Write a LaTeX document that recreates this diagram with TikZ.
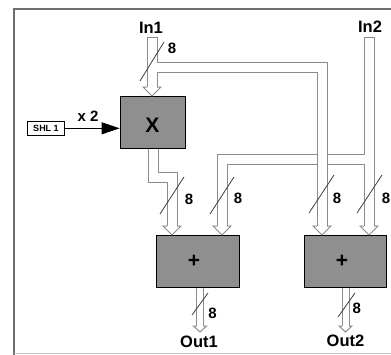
\documentclass[tikz,border=0pt]{standalone}
\usepackage{fontspec}
\setmainfont{Liberation Sans}
\usetikzlibrary{arrows.meta,calc}
\definecolor{busgray}{RGB}{140,140,140}
\definecolor{boxgray}{RGB}{143,143,143}
\definecolor{framegray}{RGB}{110,110,110}
\definecolor{slashgray}{RGB}{60,60,60}
\newcommand\bigbushead[1]{%
  \fill[white] ($(#1)+(-9,-9)$) -- (#1) -- ($(#1)+(9,-9)$) -- cycle;
  \draw[busgray,line width=1pt,line join=miter] ($(#1)+(-5,-9)$) -- ($(#1)+(-9,-9)$) -- (#1) -- ($(#1)+(9,-9)$) -- ($(#1)+(5,-9)$);}
\newcommand\smallbushead[1]{%
  \fill[white] ($(#1)+(-6.5,-6)$) -- (#1) -- ($(#1)+(6.5,-6)$) -- cycle;
  \draw[busgray,line width=1pt,line join=miter] ($(#1)+(-3.5,-6)$) -- ($(#1)+(-6.5,-6)$) -- (#1) -- ($(#1)+(6.5,-6)$) -- ($(#1)+(3.5,-6)$);}
\begin{document}
\begin{tikzpicture}[x=1pt,y=-1pt,
  blk/.style={draw=black,line width=0.8pt,fill=boxgray,inner sep=0pt},
  busedge/.style={draw=busgray,line width=11pt,line join=miter},
  busfill/.style={draw=white,line width=9pt,line join=miter},
  obusedge/.style={draw=busgray,line width=8pt},
  obusfill/.style={draw=white,line width=6pt},
  slash/.style={draw=slashgray,line width=0.8pt},
  lbl/.style={font=\fontsize{16.5}{16.5}\selectfont\bfseries,inner sep=0pt},
  num/.style={font=\fontsize{15}{15}\selectfont\bfseries,inner sep=0pt},
  sym/.style={font=\fontsize{21}{21}\selectfont\bfseries,inner sep=0pt},
]
\useasboundingbox (0,0) rectangle (391,354);
% frame
\draw[framegray,line width=1.2pt] (14,360) -- (14,9) -- (400,9);
\draw[framegray!40,line width=0.6pt] (14,352.8) -- (391,352.8);

% blocks
\node[blk,minimum width=65pt,minimum height=52pt] (mul) at (152.5,122) {};
\node[blk,minimum width=83pt,minimum height=52pt] (add1) at (197.5,261) {};
\node[blk,minimum width=82pt,minimum height=52pt] (add2) at (345,261) {};
\node[sym] (mullbl) at (152.5,125) {X};
\node[sym] (add1lbl) at (194,261) {+};
\node[sym] (add2lbl) at (342,261) {+};

% shift input
\node[draw=black,line width=0.6pt,minimum width=36.6pt,minimum height=13.3pt,inner sep=0pt,
      font=\fontsize{9}{9}\selectfont\bfseries] (shl) at (46,128.3) {SHL 1};
\draw[line width=0.8pt,-{Triangle[length=18pt,width=12pt]}] (shl.east) -- (shl.east -| mul.west);
\node[font=\fontsize{15}{15}\selectfont\bfseries,inner sep=0pt] (x2) at (88,116.5) {x 2};

% coordinates of buses
\coordinate (in1cap) at (152,37);
\coordinate (in1top) at (152,38);
\coordinate (in1base) at (152,87);
\coordinate (in1tip) at (152,96);
\coordinate (br1start) at (152,67);
\coordinate (br1corner) at (322,67);
\coordinate (a2Abase) at (322,226);
\coordinate (a2Atip) at (322,235);
\coordinate (in2cap) at (369,37);
\coordinate (in2top) at (369,38);
\coordinate (a2Bbase) at (369,226);
\coordinate (a2Btip) at (369,235);
\coordinate (br2start) at (369,159);
\coordinate (br2corner) at (222,159);
\coordinate (a1Bbase) at (222,226);
\coordinate (a1Btip) at (222,235);
\coordinate (xout) at (153,148.5);
\coordinate (jog1) at (153,177);
\coordinate (jog2) at (172,177);
\coordinate (a1Abase) at (172,226);
\coordinate (a1Atip) at (172,235);
\coordinate (o1start) at (200,287.5);
\coordinate (o1base) at (200,326);
\coordinate (o1tip) at (200,332);
\coordinate (o2start) at (345.5,287.5);
\coordinate (o2base) at (345.5,326);
\coordinate (o2tip) at (345.5,332);

% In2 bus system
\draw[busedge] (in2cap) -- (a2Bbase);
\draw[busedge] (br2start) -- (br2corner) -- (a1Bbase);
\draw[busfill] (in2top) -- (a2Bbase);
\draw[busfill] (br2start) -- (br2corner) -- (a1Bbase);
% In1 bus system
\draw[busedge] (in1cap) -- (in1base);
\draw[busedge] (br1start) -- (br1corner) -- (a2Abase);
\draw[busfill] (in1top) -- (in1base);
\draw[busfill] (br1start) -- (br1corner) -- (a2Abase);
% multiplier output
\draw[busedge] (xout) -- (jog1) -- (jog2) -- (a1Abase);
\draw[busfill] (xout) -- (jog1) -- (jog2) -- (a1Abase);
% outputs
\draw[obusedge] (o1start) -- (o1base);
\draw[obusfill] (o1start) -- (o1base);
\draw[obusedge] (o2start) -- (o2base);
\draw[obusfill] (o2start) -- (o2base);

% arrow heads
\bigbushead{in1tip}
\bigbushead{a2Atip}
\bigbushead{a2Btip}
\bigbushead{a1Btip}
\bigbushead{a1Atip}
\smallbushead{o1tip}
\smallbushead{o2tip}

% width slashes
\draw[slash] (140,81) -- (164,42);
\draw[slash] (160,214) -- (184,177);
\draw[slash] (210,214) -- (234,177);
\draw[slash] (309,213) -- (334,175);
\draw[slash] (357,213) -- (382,175);
\draw[slash] (192,315) -- (208,293);
\draw[slash] (338,317) -- (355,293);

% width labels
\node[num] (n1) at (172,48.5) {8};
\node[num] (n2) at (189,199) {8};
\node[num] (n3) at (238,198) {8};
\node[num] (n4) at (337,198) {8};
\node[num] (n5) at (386,198) {8};
\node[num] (n6) at (212.5,313) {8};
\node[num] (n7) at (356.7,308) {8};

% port labels
\node[lbl] (lin1) at (151,28) {In1};
\node[lbl] (lin2) at (370,27) {In2};
\node[lbl] (lout1) at (199,342) {Out1};
\node[lbl] (lout2) at (345.5,341) {Out2};
\end{tikzpicture}
\end{document}
